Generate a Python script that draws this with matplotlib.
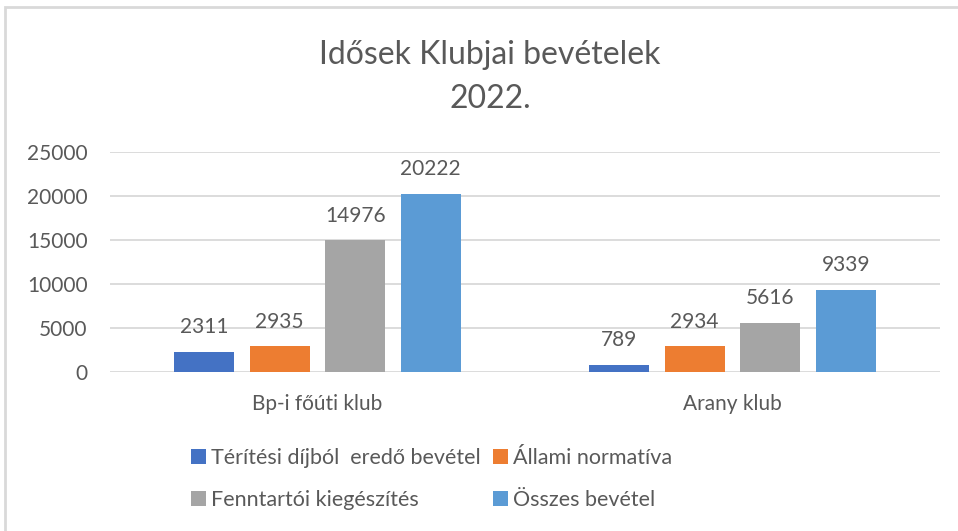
import matplotlib.pyplot as plt
import numpy as np
from matplotlib.patches import Rectangle

# club incomes, 2022
klubok = ["Bp-i főúti klub", "Arany klub"]
sorozatok = ["Térítési díjból  eredő bevétel", "Állami normatíva",
             "Fenntartói kiegészítés", "Összes bevétel"]
teritesi = [2311, 789]
allami = [2935, 2934]
fenntartoi = [14976, 5616]
osszes = [20222, 9339]
yticks = [0, 5000, 10000, 15000, 20000, 25000]

szinek = ["#4472C4", "#ED7D31", "#A5A5A5", "#5B9BD5"]
szoveg = "#595959"
plt.rcParams['font.family'] = ['Lato', 'DejaVu Sans']

W, H = 958, 531
fig = plt.figure(figsize=(W / 100, H / 100), dpi=100)
ax = fig.add_axes([110 / W, 1 - 372 / H, 830 / W, 220 / H])

x = np.arange(len(klubok))
width = 0.145
step = 0.182
bars = []
for i, (vals, c) in enumerate(zip([teritesi, allami, fenntartoi, osszes], szinek)):
    b = ax.bar(x + (i - 1.5) * step, vals, width, color=c, label=sorozatok[i], zorder=3)
    ax.bar_label(b, padding=10.5, fontsize=15, color=szoveg)
    bars.append(b)

ax.set_xlim(-0.5, 1.5)
ax.set_ylim(0, 25000)
ax.set_yticks(yticks)
ax.set_yticklabels([str(t) for t in yticks])
ax.set_xticks(x)
ax.set_xticklabels(klubok)
ax.tick_params(axis='both', length=0, labelsize=15, colors=szoveg)
ax.tick_params(axis='y', pad=16)
ax.tick_params(axis='x', pad=16)
ax.grid(axis='y', color='#D9D9D9', linewidth=1.3, zorder=0)
for s in ax.spines.values():
    s.set_visible(False)

fig.text(490 / W, 1 - 77 / H, "Idősek Klubjai bevételek\n2022.", ha='center', va='center',
         fontsize=23, color=szoveg, linespacing=1.55)

# legend row by row: matplotlib fills columns first
order = [0, 2, 1, 3]
leg = fig.legend([bars[i] for i in order], [sorozatok[i] for i in order],
                 ncol=2, loc='center left', bbox_to_anchor=(172 / W, 1 - 479 / H),
                 frameon=False, fontsize=15.5, handlelength=0.7, handleheight=0.7,
                 handletextpad=0.2, columnspacing=0.6, labelspacing=1.05,
                 labelcolor=szoveg)

fig.patches.append(Rectangle((5 / W, -0.1), 1.1, 1 - 7 / H + 0.1, transform=fig.transFigure,
                             fill=False, edgecolor='#D9D9D9', linewidth=2))

fig.savefig("out.png", dpi=100)
